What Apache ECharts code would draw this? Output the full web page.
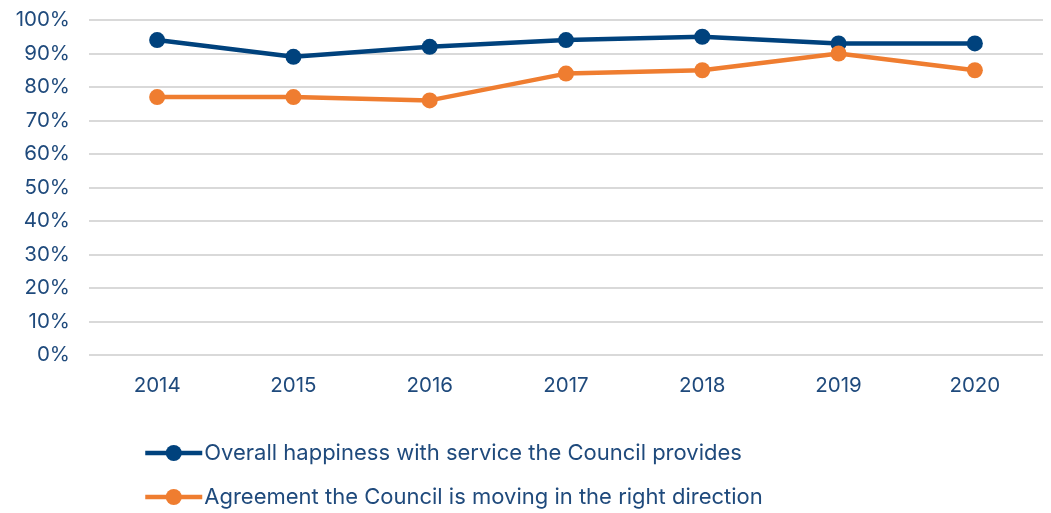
<!DOCTYPE html>
<html>
<head>
<meta charset="utf-8">
<script src="https://cdn.jsdelivr.net/npm/echarts@6/dist/echarts.min.js"></script>
<style>
  html, body { margin: 0; padding: 0; background: #fff; }
  #chart { width: 1051px; height: 513px; }
</style>
</head>
<body>
<div id="chart"></div>
<script>
const years = ['2014', '2015', '2016', '2017', '2018', '2019', '2020'];
const happiness = [94, 89, 92, 94, 95, 93, 93];
const rightDirection = [77, 77, 76, 84, 85, 90, 85];
const seriesNames = [
  'Overall happiness with service the Council provides',
  'Agreement the Council is moving in the right direction'
];

const textColor = '#1f4a7c';
const fontFamily = 'Inter, "Noto Sans", sans-serif';

const chart = echarts.init(document.getElementById('chart'));
chart.setOption({
  animation: false,
  textStyle: { fontFamily: fontFamily },
  grid: { left: 89, right: 8, top: 20, bottom: 158, containLabel: false },
  xAxis: {
    type: 'category',
    data: years,
    boundaryGap: true,
    axisLine: { show: false },
    axisTick: { show: false },
    axisLabel: { color: textColor, fontSize: 20.5, margin: 20, fontFamily: fontFamily }
  },
  yAxis: {
    type: 'value',
    min: 0,
    max: 100,
    interval: 10,
    axisLine: { show: false },
    axisTick: { show: false },
    axisLabel: { color: textColor, fontSize: 20.5, margin: 19, formatter: '{value}%', fontFamily: fontFamily },
    splitLine: { lineStyle: { color: '#d9d9d9', width: 2 } }
  },
  legend: {
    orient: 'vertical',
    left: 138,
    top: 437,
    itemWidth: 57,
    itemHeight: 20,
    itemGap: 22,
    lineStyle: { width: 4.5 },
    textStyle: { color: textColor, fontSize: 22, fontFamily: fontFamily, padding: [0, 0, 0, -3] },
    data: seriesNames
  },
  series: [
    {
      name: seriesNames[0],
      type: 'line',
      data: happiness,
      symbol: 'circle',
      symbolSize: 16,
      color: '#00427d',
      lineStyle: { width: 4.5, color: '#00427d' },
      itemStyle: { color: '#00427d' }
    },
    {
      name: seriesNames[1],
      type: 'line',
      data: rightDirection,
      symbol: 'circle',
      symbolSize: 16,
      color: '#ef7d30',
      lineStyle: { width: 4.5, color: '#ef7d30' },
      itemStyle: { color: '#ef7d30' }
    }
  ]
});
</script>
</body>
</html>
